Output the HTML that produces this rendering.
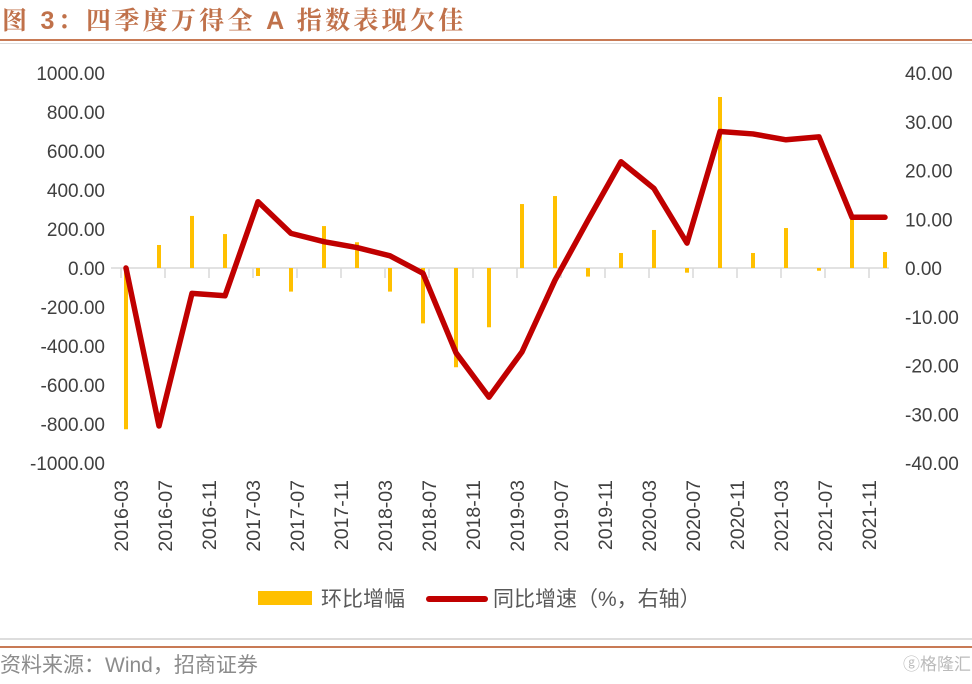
<!DOCTYPE html>
<html><head><meta charset="utf-8"><style>
body{margin:0;background:#fff;width:972px;height:679px;overflow:hidden;font-family:"Liberation Sans","Noto Sans CJK SC",sans-serif}
</style></head><body>
<svg width="972" height="679" viewBox="0 0 972 679" xmlns="http://www.w3.org/2000/svg">
<text x="2" y="29" font-size="25" fill="#c0714a" font-weight="bold" letter-spacing="3.3" font-family="'Liberation Sans','Noto Serif CJK SC',serif">图 3：四季度万得全 A 指数表现欠佳</text>
<rect x="0" y="39" width="972" height="2" fill="#c87a55"/>
<rect x="0" y="43" width="972" height="1" fill="#ddd"/>
<g id="plot"></g>
<g>
<rect x="258" y="591" width="54" height="14" fill="#ffc000"/>
<text x="321" y="606" font-size="21" fill="#595959">环比增幅</text>
<line x1="429" y1="599" x2="485" y2="599" stroke="#c00000" stroke-width="6" stroke-linecap="round"/>
<text x="493" y="606" font-size="21" fill="#595959">同比增速（%，右轴）</text>
</g>
<rect x="0" y="638" width="972" height="2" fill="#ddd"/>
<rect x="0" y="646" width="972" height="2" fill="#c87a55"/>
<text x="0" y="672" font-size="21" fill="#8c8c8c">资料来源：Wind，招商证券</text>
<text x="903" y="670" font-size="17" fill="#bbb">ⓖ格隆汇</text>
</svg>
<script>
const categories=["2016-03","2016-06","2016-09","2016-12","2017-03","2017-06","2017-09","2017-12","2018-03","2018-06","2018-09","2018-12","2019-03","2019-06","2019-09","2019-12","2020-03","2020-06","2020-09","2020-12","2021-03","2021-06","2021-09","2021-12"];
const qoqValues=[-827,118,267,174,-41,-121,215,132,-121,-284,-509,-304,328,369,-44,77,195,-24,877,77,205,-14,265,82];
const yoyValues=[0,-32.4,-5.2,-5.7,13.6,7.1,5.4,4.2,2.5,-1.1,-17.4,-26.5,-17.2,-2.5,9.8,21.8,16.3,5.1,28.0,27.5,26.3,26.9,10.4,10.4];
const leftTicks=[1000,800,600,400,200,0,-200,-400,-600,-800,-1000];
const rightTicks=[40,30,20,10,0,-10,-20,-30,-40];
const xLabels=["2016-03","2016-07","2016-11","2017-03","2017-07","2017-11","2018-03","2018-07","2018-11","2019-03","2019-07","2019-11","2020-03","2020-07","2020-11","2021-03","2021-07","2021-11"];

const NS="http://www.w3.org/2000/svg";
const g=document.getElementById('plot');
const Y0=268, YTOP=73;
const yL=v=>Y0-v*(Y0-YTOP)/1000;
const yR=v=>Y0-v*(Y0-YTOP)/40;
const monthIdx=s=>{const [y,m]=s.split('-').map(Number);return (y-2016)*12+(m-3);};
const xM=m=>126+11*m;
const xTick=m=>121+11*m;
function mk(tag,attrs){const e=document.createElementNS(NS,tag);for(const k in attrs)e.setAttribute(k,attrs[k]);g.appendChild(e);return e;}

leftTicks.forEach(v=>{
  const t=mk('text',{x:105,y:yL(v)+7,'font-size':19,fill:'#404040','text-anchor':'end'});
  t.textContent=v.toFixed(2);
  
  
});
rightTicks.forEach(v=>{
  const t=mk('text',{x:905,y:yR(v)+7,'font-size':19,fill:'#404040'});
  t.textContent=v.toFixed(2);
  
  
});
const ax=mk('line',{x1:111,y1:Y0,x2:889,y2:Y0,stroke:'#d9d9d9','stroke-width':1.5});


xLabels.forEach(s=>{
  const x=xTick(monthIdx(s));
  const tk=mk('line',{x1:x,y1:Y0,x2:x,y2:Y0+10,stroke:'#d9d9d9','stroke-width':1.5});
  
  
  const t=mk('text',{x:0,y:0,'font-size':19.5,fill:'#404040','text-anchor':'end',transform:`translate(${x+7},480) rotate(-90)`});
  t.textContent=s;
  
  
});
categories.forEach((c,i)=>{
  const x=xM(monthIdx(c)), v=qoqValues[i], y=yL(v);
  const b=mk('rect',{x:x-2,y:Math.min(y,Y0),width:4,height:Math.abs(y-Y0),fill:'#ffc000'});
  
  
});
const pts=categories.map((c,i)=>xM(monthIdx(c))+','+yR(yoyValues[i])).join(' ');
const pl=mk('polyline',{points:pts,fill:'none',stroke:'#c00000','stroke-width':5.5,'stroke-linejoin':'round','stroke-linecap':'round'});


</script>
</body></html>
